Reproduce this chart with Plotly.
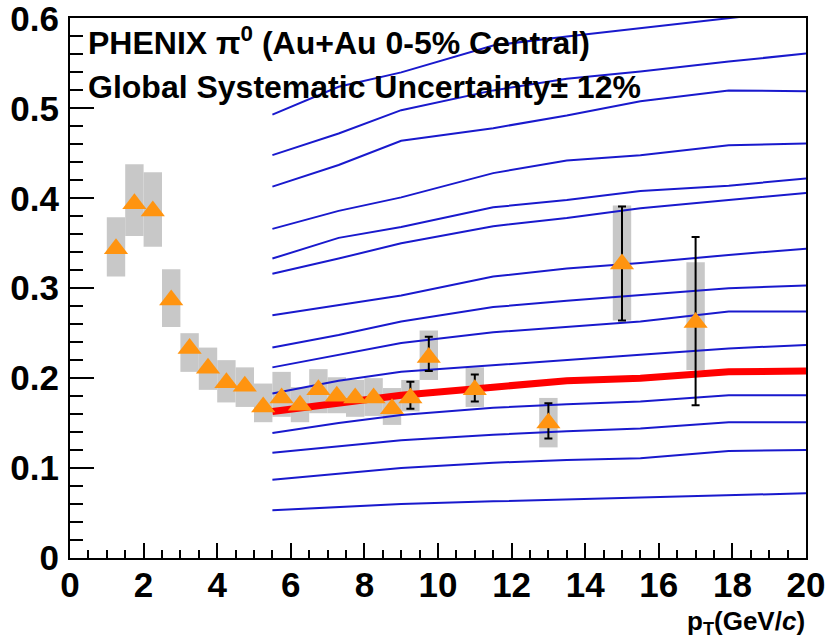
import plotly.graph_objects as go

# ---------------- data ----------------
pt = [1.25, 1.75, 2.25, 2.75, 3.25, 3.75, 4.25, 4.75, 5.25, 5.75, 6.25, 6.75,
      7.25, 7.75, 8.25, 8.75, 9.25, 9.75, 11.0, 13.0, 15.0, 17.0]
val = [0.344, 0.394, 0.386, 0.287, 0.233, 0.211, 0.195, 0.191, 0.168, 0.178, 0.170, 0.187,
       0.180, 0.178, 0.178, 0.166, 0.178, 0.223, 0.187, 0.150, 0.327, 0.262]
sys_lo = [0.313, 0.358, 0.346, 0.257, 0.207, 0.187, 0.173, 0.168, 0.151, 0.157, 0.151, 0.161,
          0.161, 0.157, 0.158, 0.148, 0.163, 0.198, 0.168, 0.123, 0.264, 0.209]
sys_hi = [0.379, 0.438, 0.429, 0.321, 0.250, 0.234, 0.220, 0.212, 0.194, 0.207, 0.190, 0.210,
          0.201, 0.198, 0.200, 0.189, 0.198, 0.253, 0.212, 0.178, 0.392, 0.329]

# statistical error bars (only visible for high-pT points)
err_pt = [9.25, 9.75, 11.0, 13.0, 15.0, 17.0]
err_val = [0.178, 0.223, 0.187, 0.150, 0.327, 0.262]
err_lo = [0.166, 0.208, 0.174, 0.133, 0.264, 0.170]
err_hi = [0.196, 0.246, 0.204, 0.172, 0.391, 0.357]

# model curves
curve_pt = [5.5, 7.3, 9.0, 11.5, 13.5, 15.5, 17.9, 20.0]
blue_curves = [
    [0.493, 0.524, 0.540, 0.570, 0.580, 0.589, 0.600, 0.610],
    [0.448, 0.472, 0.498, 0.520, 0.533, 0.541, 0.552, 0.561],
    [0.413, 0.437, 0.464, 0.478, 0.492, 0.508, 0.520, 0.519],
    [0.366, 0.386, 0.401, 0.428, 0.442, 0.448, 0.459, 0.461],
    [0.333, 0.356, 0.368, 0.390, 0.398, 0.408, 0.414, 0.422],
    [0.316, 0.333, 0.350, 0.369, 0.378, 0.389, 0.398, 0.406],
    [0.270, 0.281, 0.292, 0.313, 0.322, 0.328, 0.337, 0.344],
    [0.234, 0.248, 0.263, 0.279, 0.286, 0.292, 0.300, 0.303],
    [0.212, 0.226, 0.239, 0.251, 0.257, 0.263, 0.274, 0.274],
    [0.183, 0.197, 0.207, 0.214, 0.220, 0.226, 0.233, 0.237],
    [0.139, 0.150, 0.159, 0.167, 0.171, 0.174, 0.181, 0.181],
    [0.117, 0.124, 0.131, 0.137, 0.141, 0.144, 0.151, 0.151],
    [0.087, 0.094, 0.100, 0.106, 0.109, 0.111, 0.119, 0.120],
    [0.053, 0.057, 0.060, 0.063, 0.065, 0.067, 0.070, 0.072],
]
red_curve = [0.163, 0.173, 0.181, 0.190, 0.197, 0.200, 0.207, 0.208]

x_ticks = [0, 2, 4, 6, 8, 10, 12, 14, 16, 18, 20]
y_ticks = [0, 0.1, 0.2, 0.3, 0.4, 0.5, 0.6]
y_tick_text = ["0", "0.1", "0.2", "0.3", "0.4", "0.5", "0.6"]

title_line1 = "PHENIX π<sup>0</sup> (Au+Au 0-5% Central)"
title_line2 = "Global Systematic Uncertainty± 12%"
x_title = "p<sub>T</sub>(GeV/<i>c</i>)"

# ---------------- figure ----------------
FONT = "Liberation Sans, Arial, Helvetica, sans-serif"
fig = go.Figure()

# systematic boxes
fig.add_trace(go.Bar(
    x=pt, y=[h - l for h, l in zip(sys_hi, sys_lo)], base=sys_lo, width=0.5,
    marker=dict(color="rgb(200,200,200)", line=dict(width=0)),
    hoverinfo="skip"))

for c in blue_curves:
    fig.add_trace(go.Scatter(x=curve_pt, y=c, mode="lines",
                             line=dict(color="rgb(25,25,205)", width=2)))

fig.add_trace(go.Scatter(x=curve_pt, y=red_curve, mode="lines",
                         line=dict(color="rgb(255,0,0)", width=7)))

# error bars
fig.add_trace(go.Scatter(
    x=err_pt, y=err_val, mode="markers",
    marker=dict(size=1, color="rgba(0,0,0,0)"),
    error_y=dict(type="data", symmetric=False,
                 array=[h - v for h, v in zip(err_hi, err_val)],
                 arrayminus=[v - l for v, l in zip(err_val, err_lo)],
                 color="black", thickness=2, width=4)))

# data points
fig.add_trace(go.Scatter(
    x=pt, y=val, mode="markers",
    marker=dict(symbol="triangle-up", size=21, color="rgb(255,148,16)",
                line=dict(width=0))))

tickfont = dict(family=FONT, size=35, color="black", weight="bold")
fig.update_layout(
    width=830, height=638,
    margin=dict(l=70, r=24, t=18, b=80, autoexpand=False),
    plot_bgcolor="white", paper_bgcolor="white",
    showlegend=False, barmode="overlay",
    xaxis=dict(range=[0, 20], tickmode="array", tickvals=x_ticks,
               ticks="inside", ticklen=15, automargin=False,
               tickwidth=2, tickcolor="black", showline=True, linewidth=2,
               linecolor="black", mirror=True, showgrid=False, zeroline=False,
               tickfont=tickfont, ticklabelstandoff=-5,
               minor=dict(dtick=0.5, tick0=0, ticks="inside", ticklen=8, tickwidth=2,
                          tickcolor="black", showgrid=False)),
    yaxis=dict(range=[0, 0.6005], tickmode="array", tickvals=y_ticks,
               ticktext=y_tick_text, ticks="inside", ticklen=24, automargin=False,
               tickwidth=2, tickcolor="black", showline=True, linewidth=2,
               linecolor="black", mirror=True, showgrid=False, zeroline=False,
               tickfont=tickfont, ticklabelstandoff=2, ticklabeloverflow="allow",
               minor=dict(dtick=0.02, tick0=0, ticks="inside", ticklen=13, tickwidth=2,
                          tickcolor="black", showgrid=False)),
    annotations=[
        dict(text=title_line1, xref="paper", yref="paper", x=0.022, y=0.958,
             xanchor="left", yanchor="middle", showarrow=False,
             font=dict(family=FONT, size=32, color="black", weight="bold")),
        dict(text=title_line2, xref="paper", yref="paper", x=0.022, y=0.872,
             xanchor="left", yanchor="middle", showarrow=False,
             font=dict(family=FONT, size=32, color="black", weight="bold")),
        dict(text=x_title, xref="paper", yref="paper", x=1.002, y=-0.119,
             xanchor="right", yanchor="middle", showarrow=False,
             font=dict(family=FONT, size=26, color="black", weight="bold")),
    ],
)

fig.write_html("out.html")
